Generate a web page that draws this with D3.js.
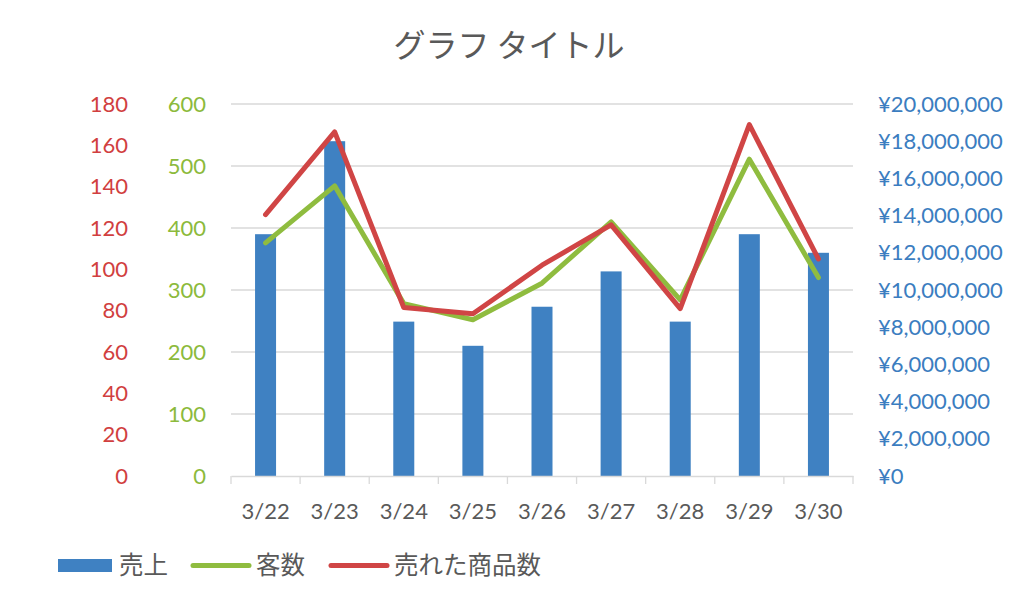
<!DOCTYPE html>
<html><head><meta charset="utf-8">
<script src="https://cdn.jsdelivr.net/npm/d3@7"></script>
<style>body{margin:0;background:#fff;}svg{display:block;}</style>
</head><body>
<script>
const categories = ["3/22","3/23","3/24","3/25","3/26","3/27","3/28","3/29","3/30"];
const sales = [13000000,18000000,8300000,7000000,9100000,11000000,8300000,13000000,12000000];
const customers = [376,468,278,252,311,410,284,511,320];
const itemsSold = [126.5,166.5,81.5,78.5,102,121.5,81,170,105];
const redTicks = [0,20,40,60,80,100,120,140,160,180];
const greenTicks = [0,100,200,300,400,500,600];
const blueTicks = [0,2e6,4e6,6e6,8e6,10e6,12e6,14e6,16e6,18e6,20e6];
const seriesNames = ["売上","客数","売れた商品数"];

const W=1024,H=603;
const colBlue="#3F81C2", colGreen="#8FBC3F", colRed="#D04545";
const numFont="Lato, 'Noto Sans', sans-serif";
const jpFont="'Noto Sans CJK JP', sans-serif";
const svg=d3.select("body").append("svg").attr("width",W).attr("height",H);

const x0=231,x1=853,yTop=104,yBot=476;
const x=d3.scaleBand().domain(categories).range([x0,x1]).paddingInner(0).paddingOuter(0);
const yG=d3.scaleLinear().domain([0,600]).range([yBot,yTop]);
const yR=d3.scaleLinear().domain([0,180]).range([yBot,yTop]);
const yB=d3.scaleLinear().domain([0,20e6]).range([yBot,yTop]);

// title
svg.append("text").attr("x",509).attr("y",57).attr("text-anchor","middle")
  .attr("font-family",jpFont).attr("font-size",32).attr("fill","#595959").text("グラフ タイトル");

// gridlines
svg.append("g").selectAll("line").data(greenTicks.slice(1)).join("line")
  .attr("x1",x0).attr("x2",x1).attr("y1",d=>yG(d)).attr("y2",d=>yG(d))
  .attr("stroke","#D9D9D9").attr("stroke-width",1.3);

// bars
const bw=21;
svg.append("g").selectAll("rect").data(sales).join("rect")
  .attr("x",(d,i)=>x(categories[i])+x.bandwidth()/2-bw/2)
  .attr("width",bw).attr("y",d=>yB(d)).attr("height",d=>yBot-yB(d))
  .attr("fill",colBlue);

// x axis
const xAxis=d3.axisBottom(x).tickSizeInner(0).tickSizeOuter(0).tickPadding(27);
const gx=svg.append("g").attr("transform",`translate(0,${yBot})`).call(xAxis);
gx.select(".domain").attr("stroke","#D9D9D9").attr("stroke-width",1.3);
gx.selectAll(".tick line").remove();
gx.selectAll("text").attr("font-family",numFont).attr("font-size",22).attr("fill","#595959");
// category boundary ticks
const bounds=categories.map(c=>x(c)).concat([x1]);
svg.append("g").selectAll("line").data(bounds).join("line")
  .attr("x1",d=>d).attr("x2",d=>d).attr("y1",yBot).attr("y2",yBot+8)
  .attr("stroke","#D9D9D9").attr("stroke-width",1.3);

// lines
const lineG=d3.line().x((d,i)=>x(categories[i])+x.bandwidth()/2).y(d=>yG(d));
const lineR=d3.line().x((d,i)=>x(categories[i])+x.bandwidth()/2).y(d=>yR(d));
svg.append("path").datum(customers).attr("d",lineG).attr("fill","none")
  .attr("stroke",colGreen).attr("stroke-width",5).attr("stroke-linejoin","round").attr("stroke-linecap","round");
svg.append("path").datum(itemsSold).attr("d",lineR).attr("fill","none")
  .attr("stroke",colRed).attr("stroke-width",5).attr("stroke-linejoin","round").attr("stroke-linecap","round");

// left red axis
const aR=d3.axisLeft(yR).tickValues(redTicks).tickSize(0).tickPadding(0);
const gR=svg.append("g").attr("transform","translate(128,0)").call(aR);
gR.select(".domain").remove();
gR.selectAll("text").attr("font-family",numFont).attr("font-size",22).attr("fill","#D13F3F");

// left green axis
const aG=d3.axisLeft(yG).tickValues(greenTicks).tickSize(0).tickPadding(0);
const gG=svg.append("g").attr("transform","translate(206,0)").call(aG);
gG.select(".domain").remove();
gG.selectAll("text").attr("font-family",numFont).attr("font-size",22).attr("fill","#8CBA3C");

// right blue axis
const fmtYen=d=>"¥"+d3.format(",")(d);
const aB=d3.axisRight(yB).tickValues(blueTicks).tickFormat(fmtYen).tickSize(0).tickPadding(0);
const gB=svg.append("g").attr("transform","translate(878,0)").call(aB);
gB.select(".domain").remove();
gB.selectAll("text").attr("font-family",numFont).attr("font-size",22).attr("fill","#3B7DC0");

// legend
const lg=svg.append("g");
const lfs=24.5;
lg.append("rect").attr("x",58).attr("y",559).attr("width",54).attr("height",13).attr("fill",colBlue);
lg.append("text").attr("x",119).attr("y",574).attr("font-family",jpFont).attr("font-size",lfs).attr("fill","#595959").text(seriesNames[0]);
lg.append("line").attr("x1",193).attr("x2",249).attr("y1",565.5).attr("y2",565.5).attr("stroke",colGreen).attr("stroke-width",5).attr("stroke-linecap","round");
lg.append("text").attr("x",256).attr("y",574).attr("font-family",jpFont).attr("font-size",lfs).attr("fill","#595959").text(seriesNames[1]);
lg.append("line").attr("x1",331).attr("x2",387).attr("y1",565.5).attr("y2",565.5).attr("stroke",colRed).attr("stroke-width",5).attr("stroke-linecap","round");
lg.append("text").attr("x",394).attr("y",574).attr("font-family",jpFont).attr("font-size",lfs).attr("fill","#595959").text(seriesNames[2]);
</script>
</body></html>
